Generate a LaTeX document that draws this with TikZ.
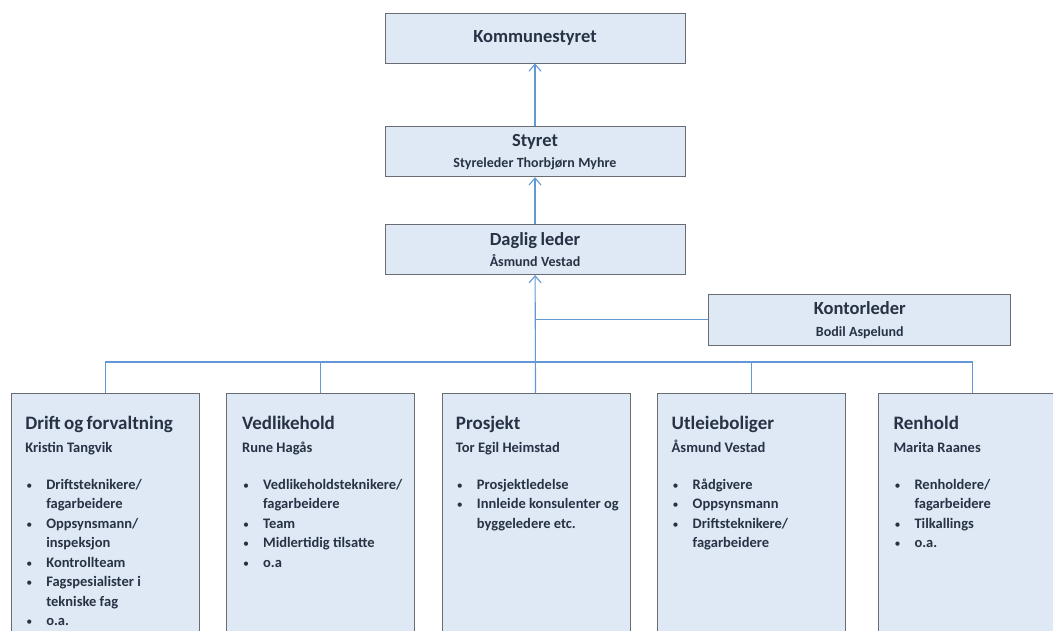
\documentclass[tikz,border=0pt]{standalone}
\usepackage{fontspec}
\setmainfont{Carlito}
\usepackage{xcolor}
\usepackage{tikz}
\usetikzlibrary{arrows.meta}
\usetikzlibrary{positioning}

\definecolor{boksfyll}{RGB}{222,233,245}
\definecolor{boksrand}{RGB}{105,108,115}
\definecolor{strek}{RGB}{98,152,214}
\definecolor{skrift}{RGB}{40,50,68}

\newcommand{\punkt}[1]{\par\hangindent=21pt\hangafter=1\noindent\makebox[21pt][l]{\hspace{1pt}{\fontsize{12}{12}\mdseries\selectfont\textbullet}}#1}
\newcommand{\tittel}[2]{\fontsize{19}{23}\selectfont\strut #1\par
  \fontsize{14.5}{23}\selectfont #2\par
  \fontsize{14.5}{19.5}\selectfont\vspace{17.5pt}}

\begin{document}
\begin{tikzpicture}[x=1pt,y=-1pt,node distance=27pt,semithick,text=skrift,font=\bfseries]
  \tikzstyle{toppboks}=[draw=boksrand, fill=boksfyll, rectangle, line width=0.8pt, minimum width=300pt, minimum height=50pt, text width=296pt, align=center, inner sep=0pt]
  \tikzstyle{enhet}=[draw=boksrand, fill=boksfyll, rectangle, line width=0.8pt, minimum width=188pt, minimum height=250pt, inner sep=0pt]
  \tikzstyle{innhold}=[anchor=north west, text width=172pt, inner sep=0pt, align=left]
  \tikzstyle{linje}=[draw=strek, line width=1.1pt]
  \tikzstyle{pil}=[linje, -{Straight Barb[length=7pt,width=12pt]}]
  \useasboundingbox (0,0) rectangle (1053,630);

  % ledelse
  \node[toppboks] (kommunestyret) at (535,38) {\fontsize{18.5}{21}\selectfont Kommunestyret};
  \node[toppboks] (styret) [below=63pt of kommunestyret] {\fontsize{18.5}{21}\selectfont Styret\par
    \fontsize{14}{21}\selectfont Styreleder Thorbjørn Myhre\par};
  \node[toppboks] (daglig) [below=47pt of styret] {\fontsize{18.5}{21}\selectfont Daglig leder\par
    \fontsize{14}{21}\selectfont Åsmund Vestad\par};
  \node[toppboks, minimum width=302pt, text width=298pt, minimum height=51pt] (kontor) [below right=19pt and 23pt of daglig] {\fontsize{18.5}{22}\selectfont Kontorleder\par
    \fontsize{14}{22}\selectfont Bodil Aspelund\par};

  % avdelinger
  \node[enhet, anchor=north west] (drift) at (11,393) {};
  \node[enhet] (vedlikehold) [right=26pt of drift] {};
  \node[enhet] (prosjekt) [right=27pt of vedlikehold] {};
  \node[enhet] (utleie) [right=27pt of prosjekt] {};
  \node[enhet] (renhold) [right=32pt of utleie] {};

  \node[innhold] (driftTxt) at ([xshift=14pt,yshift=-20pt]drift.north west) {\tittel{Drift og forvaltning}{Kristin Tangvik}
    \punkt{Driftsteknikere/\newline fagarbeidere}
    \punkt{Oppsynsmann/\newline inspeksjon}
    \punkt{Kontrollteam}
    \punkt{Fagspesialister i\newline tekniske fag}
    \punkt{o.a.}\par};
  \node[innhold] (vedlikeholdTxt) at ([xshift=16pt,yshift=-20pt]vedlikehold.north west) {\tittel{Vedlikehold}{Rune Hagås}
    \punkt{Vedlikeholdsteknikere/\newline fagarbeidere}
    \punkt{Team}
    \punkt{Midlertidig tilsatte}
    \punkt{o.a}\par};
  \node[innhold] (prosjektTxt) at ([xshift=14pt,yshift=-20pt]prosjekt.north west) {\tittel{Prosjekt}{Tor Egil Heimstad}
    \punkt{Prosjektledelse}
    \punkt{Innleide konsulenter og\newline byggeledere etc.}\par};
  \node[innhold] (utleieTxt) at ([xshift=14pt,yshift=-20pt]utleie.north west) {\tittel{Utleieboliger}{Åsmund Vestad}
    \punkt{Rådgivere}
    \punkt{Oppsynsmann}
    \punkt{Driftsteknikere/\newline fagarbeidere}\par};
  \node[innhold] (renholdTxt) at ([xshift=15pt,yshift=-20pt]renhold.north west) {\tittel{Renhold}{Marita Raanes}
    \punkt{Renholdere/\newline fagarbeidere}
    \punkt{Tilkallings}
    \punkt{o.a.}\par};

  % linjer
  \coordinate (bus) at (535,362);
  \draw[linje] (drift.north |- bus) -- (renhold.north |- bus);
  \foreach \avd in {drift,vedlikehold,utleie,renhold}
    \draw[linje] (\avd.north) -- (\avd.north |- bus);
  \draw[linje] (kontor.west) -- (kontor.west -| daglig.south);
  \path
    (styret) edge[pil] (kommunestyret)
    (daglig) edge[pil] (styret)
    (prosjekt) edge[pil] (daglig);
\end{tikzpicture}
\end{document}
